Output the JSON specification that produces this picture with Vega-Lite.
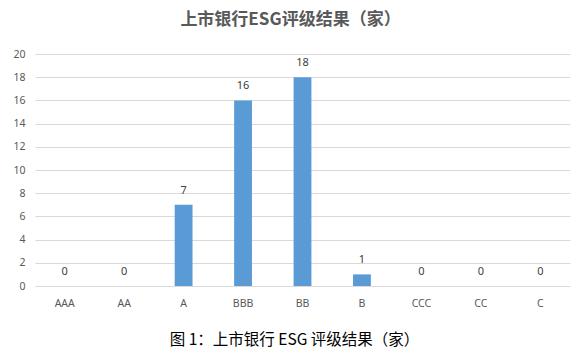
{
  "$schema": "https://vega.github.io/schema/vega-lite/v6.json",
  "autosize": "none",
  "width": 535,
  "height": 232,
  "padding": {"left": 35, "top": 54, "right": 18, "bottom": 65},
  "background": "white",
  "config": {"view": {"stroke": null}},
  "title": {
    "text": "上市银行ESG评级结果（家）",
    "font": "Noto Sans CJK SC",
    "fontSize": 17,
    "fontWeight": "bold",
    "color": "#595959",
    "offset": 20,
    "dx": -12
  },
  "data": {
    "values": [
      {"rating": "AAA", "count": 0},
      {"rating": "AA", "count": 0},
      {"rating": "A", "count": 7},
      {"rating": "BBB", "count": 16},
      {"rating": "BB", "count": 18},
      {"rating": "B", "count": 1},
      {"rating": "CCC", "count": 0},
      {"rating": "CC", "count": 0},
      {"rating": "C", "count": 0}
    ]
  },
  "encoding": {
    "x": {
      "field": "rating",
      "type": "nominal",
      "sort": null,
      "scale": {"paddingInner": 0.7, "paddingOuter": 0.35},
      "axis": {
        "title": "图 1：上市银行 ESG 评级结果（家）",
        "titleFont": "Noto Sans CJK SC",
        "titleFontSize": 15.5,
        "titleFontWeight": "normal",
        "titleColor": "#000000",
        "titlePadding": 24,
        "titleX": 259,
        "labelAngle": 0,
        "labelFont": "Noto Sans",
        "labelFontSize": 10.5,
        "labelColor": "#595959",
        "labelPadding": 12,
        "domain": false,
        "ticks": false
      }
    },
    "y": {
      "field": "count",
      "type": "quantitative",
      "scale": {"domain": [0, 20]},
      "axis": {
        "title": null,
        "values": [0, 2, 4, 6, 8, 10, 12, 14, 16, 18, 20],
        "labelFont": "Noto Sans",
        "labelFontSize": 10.5,
        "labelColor": "#595959",
        "labelPadding": 10,
        "domain": false,
        "ticks": false,
        "gridColor": "#d9d9d9",
        "gridWidth": 1
      }
    }
  },
  "layer": [
    {"mark": {"type": "bar", "color": "#5b9bd5"}},
    {
      "mark": {"type": "text", "baseline": "bottom", "dy": -9, "font": "Noto Sans", "fontSize": 11, "color": "#404040"},
      "encoding": {"text": {"field": "count", "type": "quantitative"}}
    }
  ]
}
